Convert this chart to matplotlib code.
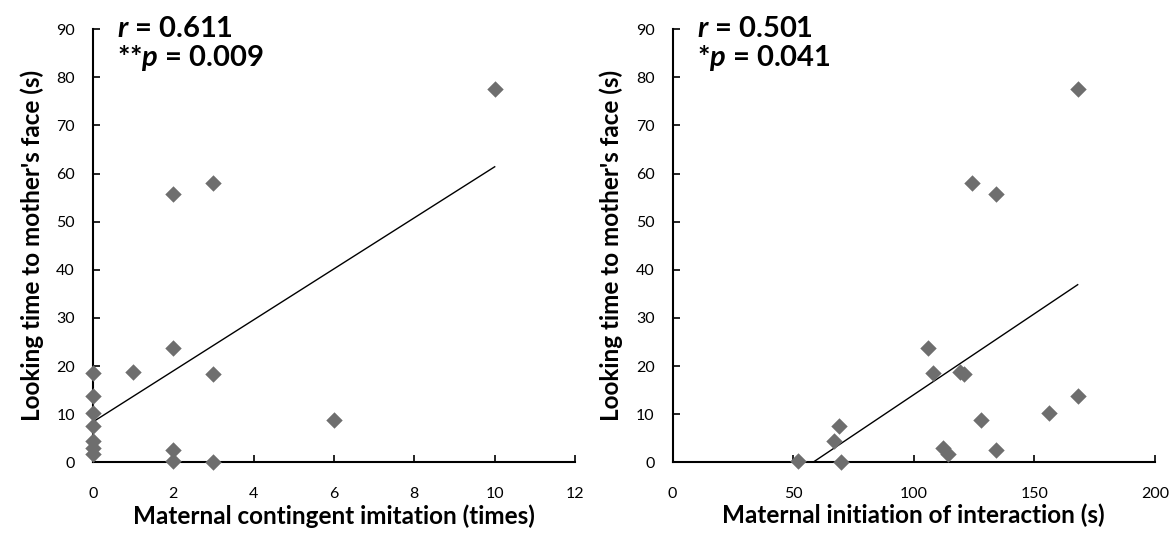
import numpy as np
import matplotlib
matplotlib.use("Agg")
import matplotlib.pyplot as plt

plt.rcParams['font.family'] = ['Lato', 'DejaVu Sans']
plt.rcParams['mathtext.fontset'] = 'custom'
plt.rcParams['mathtext.it'] = 'Lato:italic:bold'
plt.rcParams['mathtext.rm'] = 'Lato:bold'

# looking time to mother's face (s)
looking_time = [77.5, 58.0, 55.7, 23.7, 18.8, 18.5, 18.3, 13.8, 10.2,
                8.7, 7.5, 4.5, 3.0, 1.7, 2.5, 0.3, 0.0]
# maternal contingent imitation (times)
imitation = [10, 3, 2, 2, 1, 0, 3, 0, 0, 6, 0, 0, 0, 0, 2, 2, 3]
# maternal initiation of interaction (s)
initiation = [168, 124, 134, 106, 119, 108, 121, 168, 156,
              128, 69, 67, 112, 114, 134, 52, 70]

panels = [
    (imitation, "Maternal contingent imitation (times)", 12, 2,
     "$r$ = 0.611", "**$p$ = 0.009"),
    (initiation, "Maternal initiation of interaction (s)", 200, 50,
     "$r$ = 0.501", "*$p$ = 0.041"),
]
lefts = [0.079, 0.572]

fig = plt.figure(figsize=(11.76, 5.4), dpi=100)

for (xs, xlabel, xmax, xstep, rtxt, ptxt), left in zip(panels, lefts):
    ax = fig.add_axes([left, 0.144, 0.410, 0.802])
    x = np.array(xs, dtype=float)
    y = np.array(looking_time)

    ax.scatter(x, y, marker='D', s=70, color='#6e6e6e', zorder=3, clip_on=False,
               linewidths=0)

    # linear trend line
    slope, icpt = np.polyfit(x, y, 1)
    xl = np.array([x.min(), x.max()])
    ax.plot(xl, slope * xl + icpt, color='black', lw=1.0, zorder=2)

    ax.set_xlim(0, xmax)
    ax.set_ylim(0, 90)
    ax.set_xticks(np.arange(0, xmax + 1, xstep))
    ax.set_yticks(np.arange(0, 91, 10))
    for s in ['top', 'right']:
        ax.spines[s].set_visible(False)
    for s in ['left', 'bottom']:
        ax.spines[s].set_linewidth(1.5)
    ax.tick_params(direction='in', length=5, width=1.2, labelsize=11.5)
    ax.tick_params(axis='y', pad=13)
    ax.tick_params(axis='x', pad=18)

    ax.set_xlabel(xlabel, fontsize=17.5, fontweight='bold', labelpad=2)
    ax.set_ylabel("Looking time to mother's face (s)", fontsize=17.5,
                  fontweight='bold', labelpad=9)

    ax.text(0.05, 1.0, rtxt, transform=ax.transAxes, fontsize=21,
            fontweight='bold', va='center', ha='left')
    ax.text(0.05, 0.933, ptxt, transform=ax.transAxes, fontsize=21,
            fontweight='bold', va='center', ha='left')

fig.savefig("out.png", dpi=100)
